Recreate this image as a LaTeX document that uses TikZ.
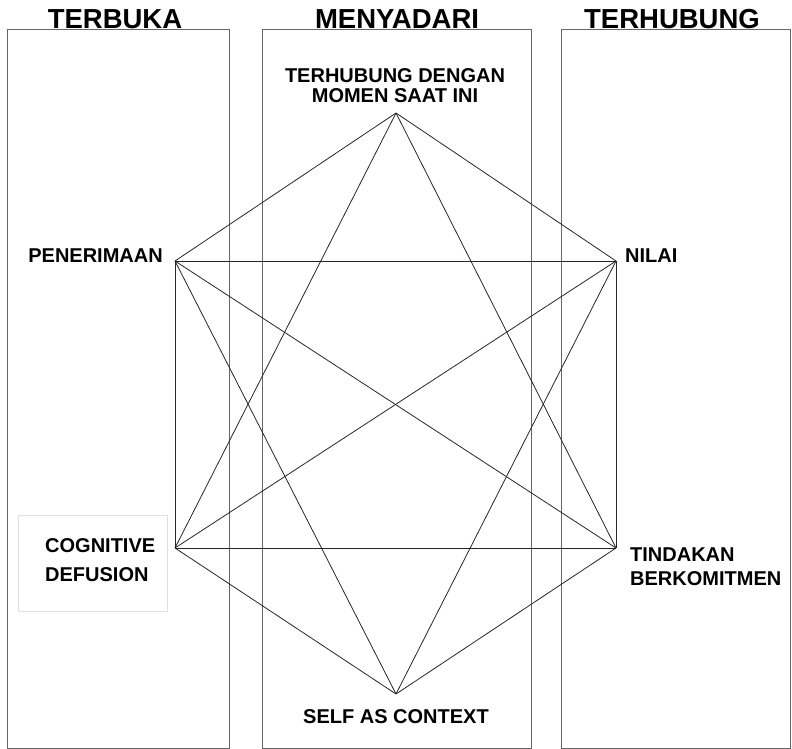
\documentclass[tikz,border=0pt]{standalone}
\usepackage{fontspec}
\setmainfont{Liberation Sans}
\usetikzlibrary{positioning}

\begin{document}
\begin{tikzpicture}[x=1pt, y=-1pt,
    pillar/.style={draw=black!60, line width=1pt},
    heading/.style={font=\fontsize{27.5}{30}\selectfont\bfseries, anchor=base, inner sep=0pt},
    lbl/.style={font=\fontsize{20}{20}\selectfont\bfseries, inner sep=0pt},
    link/.style={draw=black!85, line width=0.8pt}]
    \useasboundingbox (0,0) rectangle (792,749);

    % Columns
    \draw[pillar] (7,30) rectangle (229,748);
    \draw[pillar] (262,30) rectangle (531,748);
    \draw[pillar] (561,30) rectangle (790,748);

    % Headings
    \node[heading] (terbuka) at (115,29) {TERBUKA};
    \node[heading] (menyadari) at (397,29) {MENYADARI};
    \node[heading] (terhubung) at (672,29) {TERHUBUNG};

    % Hexagon corners
    \coordinate (moment) at (396,113);
    \coordinate (accept) at (175,261);
    \coordinate (values) at (616,261);
    \coordinate (defuse) at (175,548);
    \coordinate (commit) at (616,548);
    \coordinate (self) at (396,694);

    % Links
    \draw[link] (moment) -- (accept);
    \draw[link] (moment) -- (values);
    \draw[link] (moment) -- (defuse);
    \draw[link] (moment) -- (commit);
    \draw[link] (accept) -- (values);
    \draw[link] (accept) -- (defuse);
    \draw[link] (accept) -- (commit);
    \draw[link] (accept) -- (self);
    \draw[link] (values) -- (defuse);
    \draw[link] (values) -- (commit);
    \draw[link] (values) -- (self);
    \draw[link] (defuse) -- (commit);
    \draw[link] (defuse) -- (self);
    \draw[link] (commit) -- (self);

    % Labels
    \node[lbl, anchor=north, align=center] (momentlbl) at (395,68) {TERHUBUNG DENGAN\\MOMEN SAAT INI};
    \node[lbl, anchor=base east] (acceptlbl) at (163,262) {PENERIMAAN};
    \node[lbl, anchor=base west] (valueslbl) at (625,262) {NILAI};
    \node[draw=black!12, fill=white, minimum width=149, minimum height=96, inner sep=0pt] (defusebox) at (92.5,563) {};
    \node[lbl, font=\fontsize{20}{29}\selectfont\bfseries, anchor=north west, align=left] (defuselbl) at (45,538) {COGNITIVE\\DEFUSION};
    \node[lbl, font=\fontsize{20}{24}\selectfont\bfseries, anchor=north west, align=left] (commitlbl) at (630,548) {TINDAKAN\\BERKOMITMEN};
    \node[lbl, anchor=base] (selflbl) at (396,723) {SELF AS CONTEXT};
\end{tikzpicture}
\end{document}
